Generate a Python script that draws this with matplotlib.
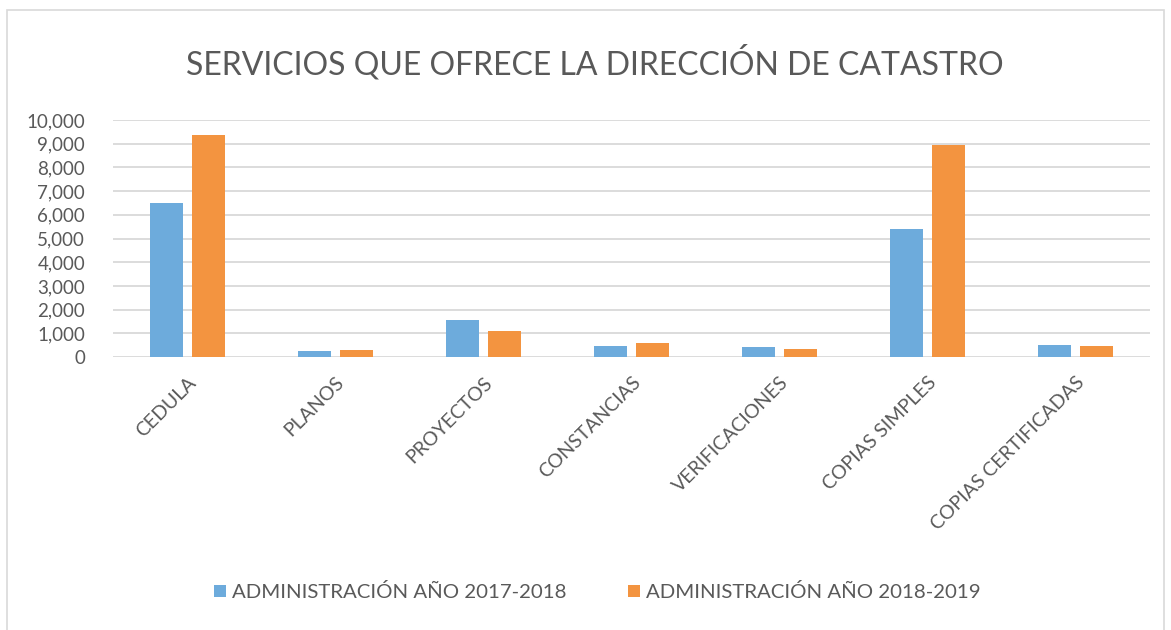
import matplotlib
matplotlib.use("Agg")
import matplotlib.pyplot as plt
import numpy as np
from matplotlib.patches import Rectangle
from matplotlib.ticker import FuncFormatter

categories = ["CEDULA", "PLANOS", "PROYECTOS", "CONSTANCIAS",
              "VERIFICACIONES", "COPIAS SIMPLES", "COPIAS CERTIFICADAS"]
admin_2017_2018 = [6480, 270, 1560, 480, 435, 5410, 505]
admin_2018_2019 = [9370, 295, 1095, 575, 325, 8935, 480]
series_names = ["ADMINISTRACIÓN AÑO 2017-2018", "ADMINISTRACIÓN AÑO 2018-2019"]

BLUE = "#6DABDC"
ORANGE = "#F39440"
TEXT = "#595959"
GRID = "#D9D9D9"

plt.rcParams["font.family"] = ["Lato", "DejaVu Sans"]

fig = plt.figure(figsize=(11.71, 6.3), dpi=100, facecolor="white")
ax = fig.add_axes([0.0965, 0.4333, 0.8855, 0.3762])

x = np.arange(len(categories))
w = 0.223
ax.bar(x - 0.142, admin_2017_2018, w, color=BLUE, label=series_names[0], zorder=3)
ax.bar(x + 0.142, admin_2018_2019, w, color=ORANGE, label=series_names[1], zorder=3)

ax.set_xlim(-0.5, len(categories) - 0.5)
ax.set_ylim(0, 10000)
ax.set_yticks(range(0, 10001, 1000))
ax.yaxis.set_major_formatter(FuncFormatter(lambda v, _: f"{int(v):,}"))
ax.grid(axis="y", color=GRID, linewidth=1.3, zorder=0)
for s in ax.spines.values():
    s.set_visible(False)
ax.tick_params(axis="both", length=0, colors=TEXT, labelsize=13.5)
ax.tick_params(axis="y", pad=20)
ax.set_xticks(x)
ax.set_xticklabels(categories, rotation=45, ha="right", va="top",
                   rotation_mode="anchor", fontsize=14, color=TEXT)
ax.tick_params(axis="x", pad=12)

fig.text(0.508, 0.90, "SERVICIOS QUE OFRECE LA DIRECCIÓN DE CATASTRO",
         ha="center", va="center", fontsize=23, color=TEXT)

leg = fig.legend(loc="center", bbox_to_anchor=(0.51, 0.06), ncol=2, frameon=False,
                 fontsize=14.7, handlelength=0.6, handleheight=0.6,
                 handletextpad=0.3, columnspacing=3.0)
for t in leg.get_texts():
    t.set_color(TEXT)

# chart area border
fig.patches.append(Rectangle((7 / 1171, -0.01), 1157 / 1171, 1 - 10 / 630 + 0.01,
                             transform=fig.transFigure, fill=False,
                             edgecolor=GRID, linewidth=1.2))

fig.savefig("out.png", dpi=100, facecolor="white")
